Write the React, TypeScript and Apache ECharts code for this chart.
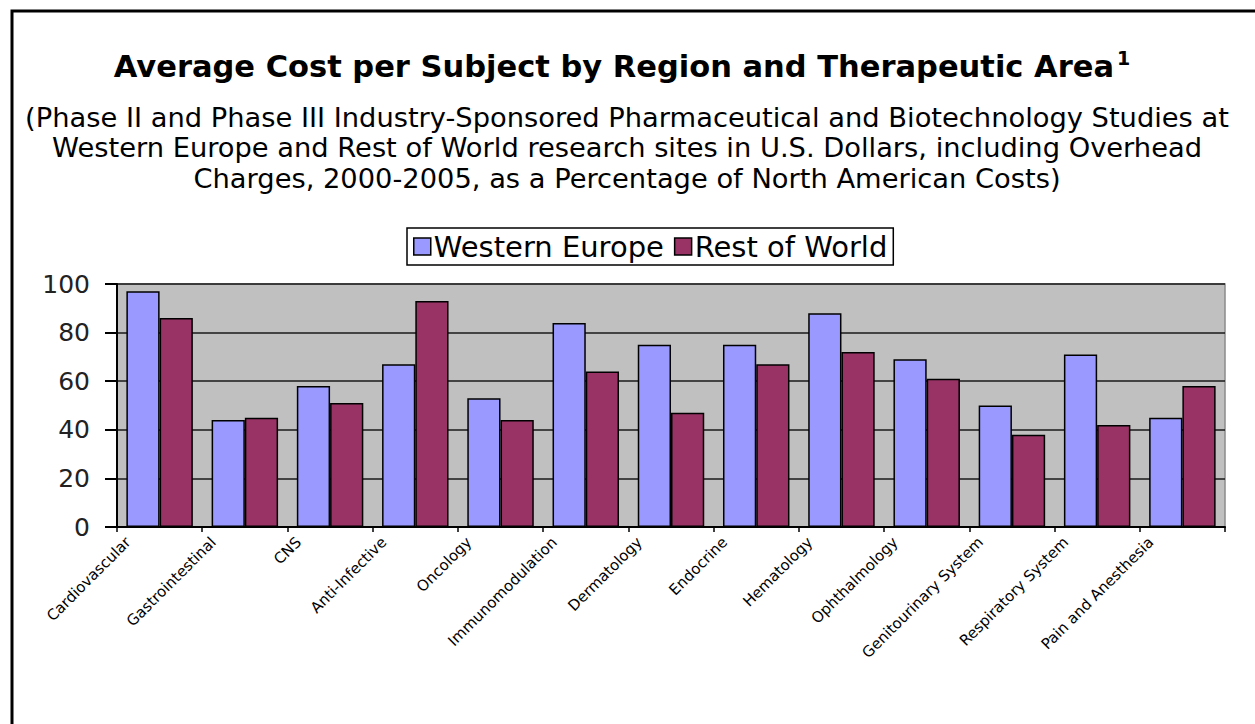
import React, { useEffect, useRef } from "react";
import * as echarts from "echarts";

const categories = [
  "Cardiovascular",
  "Gastrointestinal",
  "CNS",
  "Anti-Infective",
  "Oncology",
  "Immunomodulation",
  "Dermatology",
  "Endocrine",
  "Hematology",
  "Ophthalmology",
  "Genitourinary System",
  "Respiratory System",
  "Pain and Anesthesia",
];
const westernEurope = [97, 44, 58, 67, 53, 84, 75, 75, 88, 69, 50, 71, 45];
const restOfWorld = [86, 45, 51, 93, 44, 64, 47, 67, 72, 61, 38, 42, 58];
const seriesNames = ["Western Europe", "Rest of World"];
const yMin = 0;
const yMax = 100;
const yInterval = 20;
const titleText = "Average Cost per Subject by Region and Therapeutic Area";
const titleSup = "1";
const subtitleLines = [
  "(Phase II and Phase III Industry-Sponsored Pharmaceutical and Biotechnology Studies at",
  "Western Europe and Rest of World research sites in U.S. Dollars, including Overhead",
  "Charges, 2000-2005, as a Percentage of North American Costs)",
];

const FONT = "'DejaVu Sans', Verdana, sans-serif";

export default function App() {
  const ref = useRef<HTMLDivElement>(null);
  useEffect(() => {
    if (!ref.current) return;
    const chart = echarts.init(ref.current, undefined, { renderer: "svg" });
    chart.setOption({
      animation: false,
      backgroundColor: "#ffffff",
      textStyle: { fontFamily: FONT },
      graphic: [
        {
          type: "rect",
          shape: { x: 12, y: 11, width: 1270, height: 740 },
          style: { fill: "none", stroke: "#000", lineWidth: 3 },
          silent: true,
        },
        {
          type: "text",
          x: 622,
          y: 66,
          silent: true,
          style: {
            text: titleText + "{sup|" + titleSup + "}",
            align: "center",
            verticalAlign: "middle",
            fontFamily: FONT,
            fontWeight: "bold",
            fontSize: 30.5,
            fill: "#000",
            rich: {
              sup: {
                fontFamily: FONT,
                fontWeight: "bold",
                fontSize: 19,
                verticalAlign: "top",
                padding: [0, 0, 16, 3],
                fill: "#000",
              },
            },
          },
        },
        ...subtitleLines.map((line, i) => ({
          type: "text",
          x: 627,
          y: 117 + i * 30.5,
          silent: true,
          style: {
            text: line,
            align: "center",
            verticalAlign: "middle",
            fontFamily: FONT,
            fontSize: 27.3,
            fill: "#000",
          },
        })),
      ],
      legend: {
        data: seriesNames,
        left: 407,
        top: 228,
        orient: "horizontal",
        backgroundColor: "#fff",
        borderColor: "#000",
        borderWidth: 1.5,
        borderRadius: 0,
        padding: [4, 6, 4, 6],
        itemGap: 10,
        itemWidth: 17,
        itemHeight: 17,
        icon: "rect",
        itemStyle: { borderColor: "#000", borderWidth: 1.5 },
        textStyle: { fontFamily: FONT, fontSize: 29, color: "#000", padding: [0, 0, 0, -2] },
      },
      grid: {
        left: 117,
        right: 30,
        top: 284,
        bottom: 197,
        show: true,
        backgroundColor: "#C0C0C0",
        borderColor: "#8a8a8a",
        borderWidth: 1.5,
        containLabel: false,
      },
      xAxis: {
        type: "category",
        data: categories,
        boundaryGap: true,
        axisLine: { lineStyle: { color: "#000", width: 2 } },
        axisTick: { show: true, length: 5, lineStyle: { color: "#000", width: 1.5 } },
        axisLabel: {
          interval: 0,
          rotate: 45,
          fontFamily: FONT,
          fontSize: 15,
          color: "#000",
          margin: 6,
          verticalAlign: "bottom",
          padding: [0, 27, 10, 0],
        },
      },
      yAxis: {
        type: "value",
        min: yMin,
        max: yMax,
        interval: yInterval,
        axisLine: { show: true, lineStyle: { color: "#000", width: 2 } },
        axisTick: { show: true, length: 12, lineStyle: { color: "#000", width: 2 } },
        splitLine: { show: true, lineStyle: { color: "#1a1a1a", width: 1.5 } },
        axisLabel: { fontFamily: FONT, fontSize: 25, color: "#222", margin: 27 },
      },
      series: [
        {
          name: seriesNames[0],
          type: "bar",
          data: westernEurope,
          barGap: "0%",
          barCategoryGap: "22%",
          itemStyle: { color: "#9999FF", borderColor: "#000", borderWidth: 1.5 },
        },
        {
          name: seriesNames[1],
          type: "bar",
          data: restOfWorld,
          barGap: "0%",
          barCategoryGap: "22%",
          itemStyle: { color: "#993366", borderColor: "#000", borderWidth: 1.5 },
        },
      ],
    });
    return () => chart.dispose();
  }, []);
  return (
    <div
      ref={ref}
      style={{ position: "absolute", left: 0, top: 0, width: 1255, height: 724 }}
    />
  );
}
